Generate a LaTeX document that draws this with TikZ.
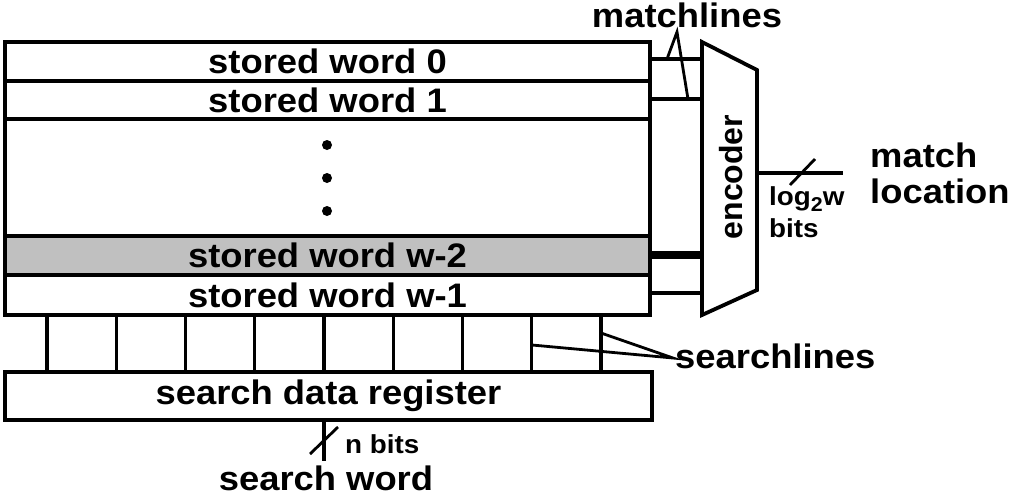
\documentclass[tikz,border=0pt]{standalone}
\usepackage{fontspec}
\setmainfont{Liberation Sans}
\newfontfamily\wide{Liberation Sans}[FakeStretch=1.07]
\definecolor{rowgray}{RGB}{192,192,192}
\begin{document}
\begin{tikzpicture}[x=1pt,y=-1pt,
  box/.style={draw, line width=3.8pt, inner sep=0pt, outer sep=0pt, anchor=north west,
              font=\wide\bfseries\fontsize{34}{36}\selectfont},
  big/.style={font=\wide\bfseries\fontsize{34}{36}\selectfont, inner sep=0pt},
  small/.style={font=\wide\bfseries\fontsize{26}{28}\selectfont, inner sep=0pt, anchor=base west},
  ml/.style={line width=3.4pt},
  mlthick/.style={line width=7.5pt},
  ptr/.style={line width=2.8pt},
  sl/.style={line width=3.2pt},
  dotmark/.style={circle, fill=black, inner sep=0pt, minimum size=10pt},
]
\useasboundingbox (0,0) rectangle (1012,496);

% stored words
\node[box, minimum width=645pt, minimum height=39pt] (w0) at (5,42) {stored word 0};
\node[box, minimum width=645pt, minimum height=38pt] (w1) at (5,81) {stored word 1};
\node[box, minimum width=645pt, minimum height=117pt] (wm) at (5,119) {};
\node[box, fill=rowgray, minimum width=645pt, minimum height=39pt] (w2) at (5,236) {stored word w-2};
\node[box, minimum width=645pt, minimum height=40pt] (w3) at (5,275) {stored word w-1};

\node[dotmark] (d1) at (327,145) {};
\node[dotmark] (d2) at (327,178) {};
\node[dotmark] (d3) at (327,211) {};

% search data register
\node[box, minimum width=647pt, minimum height=48pt] (reg) at (5,372) {search data register};

% searchlines
\foreach \i in {0,...,8}{
  \coordinate (st\i) at ({47+69.25*\i},315);
  \coordinate (sb\i) at ({47+69.25*\i},372);
  \draw[sl] (st\i) -- (sb\i);
}

% encoder
\coordinate (e1) at (702,42);
\coordinate (e2) at (757,70);
\coordinate (e3) at (757,290);
\coordinate (e4) at (702,315);
\draw[line width=3.8pt, line join=miter] (e1) -- (e2) -- (e3) -- (e4) -- cycle;
\node[font=\bfseries\fontsize{32}{34}\selectfont, rotate=90, anchor=base, inner sep=0pt] (enc) at (742,177) {encoder};

% matchlines
\coordinate (m0a) at (650,59);  \coordinate (m0b) at (702,59);
\coordinate (m1a) at (650,99);  \coordinate (m1b) at (702,99);
\coordinate (m2a) at (650,255); \coordinate (m2b) at (702,255);
\coordinate (m3a) at (650,293); \coordinate (m3b) at (702,293);
\draw[ml] (m0a) -- (m0b);
\draw[ml] (m1a) -- (m1b);
\draw[mlthick] (m2a) -- (m2b);
\draw[ml] (m3a) -- (m3b);

\node[big, anchor=base] (mlab) at (687,27) {matchlines};
\coordinate (mp) at (677,32);
\coordinate (m0p) at (667,59);
\coordinate (m1p) at (688,99);
\draw[ptr, line join=miter] (m0p) -- (mp) -- (m1p);

% searchlines label
\node[big, anchor=base west] (slab) at (675,368) {searchlines};
\coordinate (sp) at (673,358);
\coordinate (s8p) at (601,333);
\coordinate (s7p) at (532,345);
\draw[ptr, line join=miter] (s8p) -- (sp) -- (s7p);

% output
\coordinate (o1) at (757,173);
\coordinate (o2) at (843,173);
\draw[ml] (o1) -- (o2);
\coordinate (os1) at (790,185);
\coordinate (os2) at (815,159);
\draw[ptr] (os1) -- (os2);
\node[small] (lg) at (769,205) {log\raisebox{-6pt}{\fontsize{20}{22}\selectfont 2}w};
\node[small] (lgb) at (769,237) {bits};
\node[big, anchor=base west] (ml1) at (870,167) {match};
\node[big, anchor=base west] (ml2) at (870,203) {location};

% input
\coordinate (i1) at (324,420);
\coordinate (i2) at (324,461);
\draw[ml] (i1) -- (i2);
\coordinate (is1) at (310,454);
\coordinate (is2) at (338,427);
\draw[ptr] (is1) -- (is2);
\node[small] (nb) at (345,453) {n bits};
\node[big, anchor=base] (sw) at (326,490) {search word};
\end{tikzpicture}
\end{document}
